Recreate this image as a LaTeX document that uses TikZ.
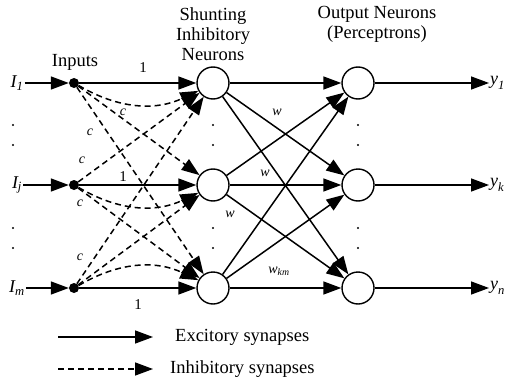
\documentclass[tikz,border=0pt]{standalone}
\usepackage{amsmath}
\usepackage{fontspec}
\setmainfont{Liberation Serif}
\usepackage{tikz}
\usetikzlibrary{positioning, arrows.meta, calc}

\tikzset{
    neuron/.style={draw, circle, line width=1.4pt, minimum size=32pt, inner sep=0pt},
    dot/.style={fill, circle, minimum size=10pt, inner sep=0pt},
    syn/.style={line width=1.5pt, -{Triangle[length=18pt, width=13pt]}},
    inh/.style={syn, dash pattern=on 6pt off 4pt},
    lbl/.style={font=\fontsize{14}{14}\selectfont\itshape, inner sep=1pt},
    head/.style={font=\fontsize{18.5}{20}\selectfont, align=center}
}

\begin{document}
\begin{tikzpicture}[x=1pt, y=1pt]
        \useasboundingbox (0,0) rectangle (508,381);
        \def\xin{74}
        \def\xsh{213}
        \def\xout{358}

        % layers
        \foreach \r/\o/\y in {1/1/298, j/k/196, m/n/93}{
            \node[font=\fontsize{18}{18}\selectfont, inner sep=1pt] (l\r) at (17,\y) {$\textit{I}_{\textit{\r}}$};
            \node[dot] (in\r) at (\xin,\y) {};
            \node[neuron] (s\r) at (\xsh,\y) {};
            \node[neuron] (o\o) at (\xout,\y) {};
            \node[font=\fontsize{18}{18}\selectfont, anchor=west, inner sep=1pt] (y\o) at (489,\y) {$\textit{y}_{\textit{\o}}$};
        }

        % vertical dots
        \foreach \x in {13,\xsh,\xout}{
            \foreach \y in {256,236,153,133}{
                \fill (\x,\y) circle (1.1pt);
            }
        }

        % headings
        \node[head] (hin) at (75,319) {Inputs};
        \node[head] (hsh) at (213,347) {Shunting\\Inhibitory\\Neurons};
        \node[head] (hout) at (377,357) {Output Neurons\\(Perceptrons)};

        % input arrows
        \foreach \r in {1,j,m}{
            \draw[syn] (l\r.east) -- (in\r);
            \draw[syn] (in\r) -- (s\r);
        }

        % inhibitory synapses
        \foreach \a/\b in {1/j, 1/m, j/1, j/m, m/1, m/j}{
            \draw[inh] (in\a) -- (s\b);
        }
        \draw[inh] (in1) to[bend right=28] (s1);
        \draw[inh] (inj) to[bend right=28] (sj);
        \draw[inh] (inm) to[bend left=28] (sm);

        % shunting to output
        \foreach \a in {1,j,m}{
            \foreach \b in {1,k,n}{
                \draw[syn] (s\a) -- (o\b);
            }
        }

        % outputs
        \foreach \o in {1,k,n}{
            \draw[syn] (o\o) -- (y\o.west);
        }

        % weights
        \node[font=\fontsize{15}{15}\selectfont] (one1) at (143,313) {1};
        \node[font=\fontsize{15}{15}\selectfont] (onej) at (123,204) {1};
        \node[font=\fontsize{15}{15}\selectfont] (onem) at (138,76) {1};
        \node[lbl] (c1) at (123,269) {c};
        \node[lbl] (c2) at (90,249) {c};
        \node[lbl] (c3) at (82,221) {c};
        \node[lbl] (c4) at (80,178) {c};
        \node[lbl] (c5) at (80,124) {c};
        \node[lbl] (w1) at (277,269) {w};
        \node[lbl] (w2) at (265,208) {w};
        \node[lbl] (w3) at (230,167) {w};
        \node[lbl] (wkm) at (279,110) {$\textit{w}_{\textit{km}}$};

        % legend
        \coordinate (exa) at (58,44);
        \coordinate (exb) at (153,44);
        \coordinate (iha) at (58,12);
        \coordinate (ihb) at (153,12);
        \draw[syn] (exa) -- (exb);
        \draw[inh] (iha) -- (ihb);
        \node[head, anchor=west, inner sep=0pt] (exc) at (175,44) {Excitory synapses};
        \node[head, anchor=west, inner sep=0pt] (inhib) at (170,12) {Inhibitory synapses};
    \end{tikzpicture}
\end{document}
